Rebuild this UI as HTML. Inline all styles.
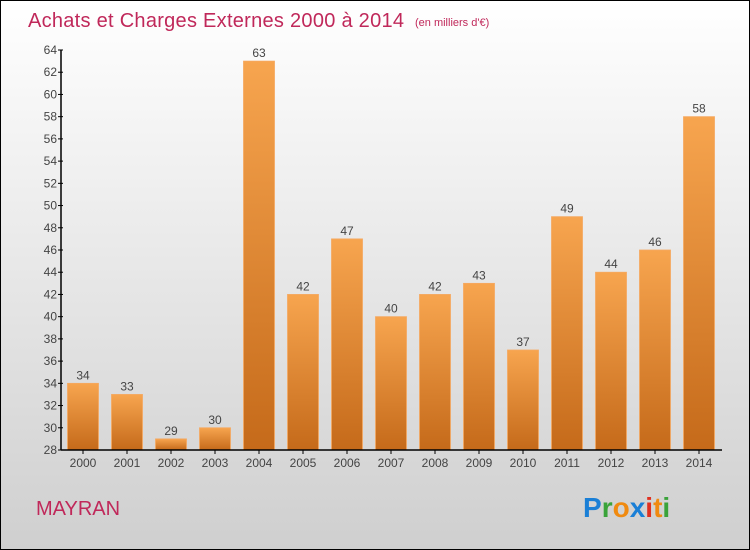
<!DOCTYPE html>
<html><head><meta charset="utf-8"><style>
body{margin:0;}
#wrap{position:relative;width:748px;height:548px;border:1px solid #000;background:linear-gradient(#fff,#cfcfcf);overflow:hidden;font-family:"Liberation Sans",sans-serif;}
</style></head><body>
<div id="wrap">
<svg id="chart" width="748" height="548">
<defs>
<linearGradient id="bg" x1="0" y1="0" x2="0" y2="1"><stop offset="0" stop-color="#f7a54f"/><stop offset="1" stop-color="#c56a1a"/></linearGradient>
</defs>
<text x="27" y="26" font-size="20" fill="#c0285a" textLength="376">Achats et Charges Externes 2000 à 2014</text>
<text x="414" y="25" font-size="11" fill="#c0285a">(en milliers d'€)</text>
<text x="35" y="514" font-size="20" fill="#c0285a">MAYRAN</text>
<g font-size="28" font-weight="bold">
<text x="582" y="516"><tspan fill="#1a7fd6">P</tspan><tspan fill="#3aa33a">r</tspan><tspan fill="#f08a10">o</tspan><tspan fill="#1a7fd6">x</tspan><tspan fill="#e03020">i</tspan><tspan fill="#f08a10">t</tspan><tspan fill="#3aa33a">i</tspan></text>
</g>
<g id="plot"></g>
</svg>
</div>
<script>
const categories=["2000","2001","2002","2003","2004","2005","2006","2007","2008","2009","2010","2011","2012","2013","2014"];
const values=[34,33,29,30,63,42,47,40,42,43,37,49,44,46,58];
const yTicks=[28,30,32,34,36,38,40,42,44,46,48,50,52,54,56,58,60,62,64];
const NS="http://www.w3.org/2000/svg";
const g=document.getElementById('plot');
const x0=60,x1=720,yMin=28,yMax=64,yTop=49,yBot=449;
const y=v=>yBot-(v-yMin)/(yMax-yMin)*(yBot-yTop);
const step=(x1-x0)/categories.length;
const xc=i=>x0+step*(i+0.5);
function mk(t,a){const e=document.createElementNS(NS,t);for(const k in a)e.setAttribute(k,a[k]);g.appendChild(e);return e;}
values.forEach((v,i)=>{
 const r=mk('rect',{x:xc(i)-15.5,y:y(v),width:31,height:yBot-y(v),fill:'url(#bg)',stroke:'#f5a860','stroke-width':0.8});
 
 
 const t=mk('text',{x:xc(i),y:y(v)-4,'text-anchor':'middle','font-size':12,fill:'#444'});t.textContent=v;
 
 
 const c=mk('text',{x:xc(i),y:466,'text-anchor':'middle','font-size':12,fill:'#444'});c.textContent=categories[i];
 
 
 mk('line',{x1:xc(i),x2:xc(i),y1:yBot,y2:yBot+4,stroke:'#000'});
});
yTicks.forEach(v=>{
 mk('line',{x1:x0-3,x2:x0+2,y1:y(v),y2:y(v),stroke:'#000'});
 const t=mk('text',{x:x0-4,y:y(v)+4,'text-anchor':'end','font-size':12,fill:'#444'});t.textContent=v;
 
 
});
const ya=mk('line',{x1:x0,x2:x0,y1:yTop,y2:yBot,stroke:'#000','stroke-width':1.5});


const xa=mk('line',{x1:x0,x2:x1+1,y1:yBot,y2:yBot,stroke:'#000','stroke-width':1.5});


</script>
</body></html>
